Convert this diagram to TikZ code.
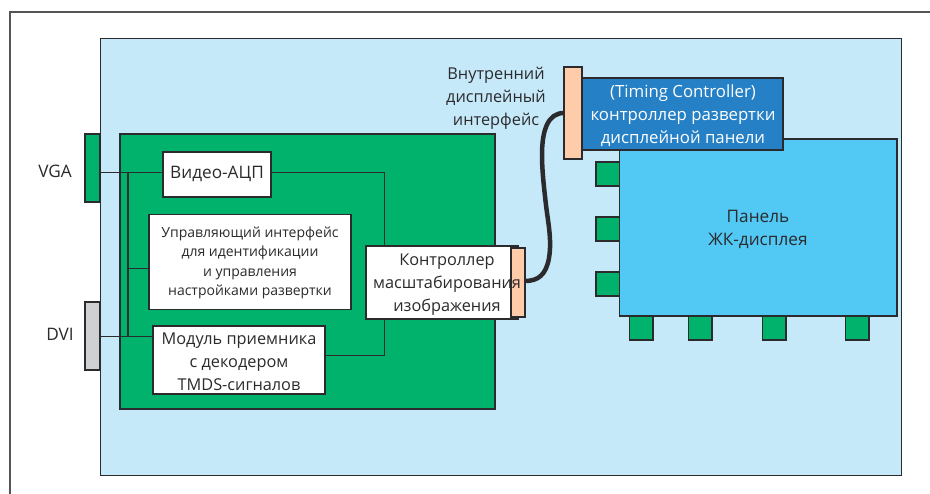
\documentclass[tikz,border=0pt]{standalone}
\usepackage{fontspec}
\setmainfont{Open Sans}
\definecolor{lightb}{HTML}{C6E9FA}
\definecolor{greenb}{HTML}{00B26B}
\definecolor{blueb}{HTML}{2580C5}
\definecolor{panelb}{HTML}{52C8F5}
\definecolor{peach}{HTML}{FFCCAA}
\definecolor{greyb}{HTML}{CFD0D2}
\definecolor{ink}{HTML}{2B2B2D}
\begin{document}
\begin{tikzpicture}[x=1pt,y=-1pt,
  box/.style={draw=ink,line width=1.2pt,anchor=north west,inner sep=0pt,outer sep=0pt},
  wire/.style={draw=ink,line width=1.2pt},
  label/.style={text=ink,align=center,inner sep=0pt,font=\fontsize{16.3}{23}\selectfont},
  biglabel/.style={text=ink,align=center,inner sep=0pt,font=\fontsize{17.2}{23}\selectfont},
  small/.style={text=ink,align=center,inner sep=0pt,font=\fontsize{14}{19.4}\selectfont},
  pad/.style={box,fill=greenb,minimum width=23.5pt,minimum height=24pt}]
\useasboundingbox (0,0) rectangle (930,494);
\fill[white] (0,0) rectangle (930,494);
\draw[draw=ink!80,line width=1.2pt] (10,494) -- (10,12) -- (930,12);
\node[box,fill=lightb,minimum width=801pt,minimum height=437pt] (board) at (100.2,38.2) {};
\node[box,fill=greenb,minimum width=375pt,minimum height=275pt] (main) at (120,134) {};
\node[box,fill=greenb,minimum width=15pt,minimum height=68pt] (vga) at (85,134) {};
\node[box,fill=greyb,minimum width=15pt,minimum height=68pt] (dvi) at (85,302) {};
\node[box,fill=white,minimum width=108pt,minimum height=45pt] (adc) at (163,152) {};
\node[box,fill=white,minimum width=202pt,minimum height=95pt] (ctl) at (149,214.5) {};
\node[box,fill=white,minimum width=172pt,minimum height=68pt] (rx) at (153,326) {};
\node[box,fill=white,minimum width=152pt,minimum height=73pt] (scal) at (366,246) {};
\coordinate (j1) at (128,172.5);
\coordinate (j2) at (128,268.5);
\coordinate (j3) at (128,336.5);
\coordinate (c1) at (384.5,172.5);
\coordinate (c2) at (384.5,355.5);
\draw[wire] (vga.east |- j1) -- (j1) -- (adc.west |- j1);
\draw[wire] (adc.east |- c1) -- (c1) -- (c1 |- scal.north);
\draw[wire] (j1) -- (j3);
\draw[wire] (j2) -- (ctl.west |- j2);
\draw[wire] (dvi.east |- j3) -- (rx.west |- j3);
\draw[wire] (rx.east |- c2) -- (c2) -- (c2 |- scal.south);
\node[box,fill=peach,minimum width=14pt,minimum height=69pt] (pa) at (511,248) {};
\node[box,fill=peach,minimum width=18pt,minimum height=92pt] (pb) at (564,67) {};
\draw[ink,line width=4.5pt] (pa.east |- 0,281) .. controls (538,281) and (546,275) .. (549,258)
  .. controls (552,240) and (548,222) .. (546,205)
  .. controls (544,188) and (542,170) .. (542,155)
  .. controls (542,130) and (548,113) .. (pb.west |- 0,113);
\foreach \n/\y in {l1/162,l2/217,l3/272} \node[pad] (\n) at (596,\y) {};
\foreach \n/\x in {b1/629.5,b2/688.5,b3/762.5,b4/845.5} \node[pad] (\n) at (\x,316) {};
\node[box,fill=panelb,minimum width=277.5pt,minimum height=177pt] (panel) at (619.5,139) {};
\node[box,fill=blueb,minimum width=201pt,minimum height=72pt] (tcon) at (582,78) {};
\node[biglabel] (tvga) at (55,171) {VGA};
\node[biglabel] (tdvi) at (60,334) {DVI};
\node[biglabel] (tadc) at (217,174) {Видео-АЦП};
\node[small] (tctl) at (250,263) {Управляющий интерфейс\\для идентификации\\и управления\\настройками развертки};
\node[label] (trx) at (239,361.5) {Модуль приемника\\с декодером\\TMDS-сигналов};
\node[label] (tscal) at (447,284.5) {Контроллер\\масштабирования\\изображения};
\node[label] (tint) at (496,98) {Внутренний\\дисплейный\\интерфейс};
\node[label,text=white,font=\fontsize{16.8}{23}\selectfont] (ttcon) at (683,115.5) {(Timing Controller)\\контроллер развертки\\дисплейной панели};
\node[biglabel] (tpanel) at (758,229) {Панель\\ЖК-дисплея};
\end{tikzpicture}
\end{document}
